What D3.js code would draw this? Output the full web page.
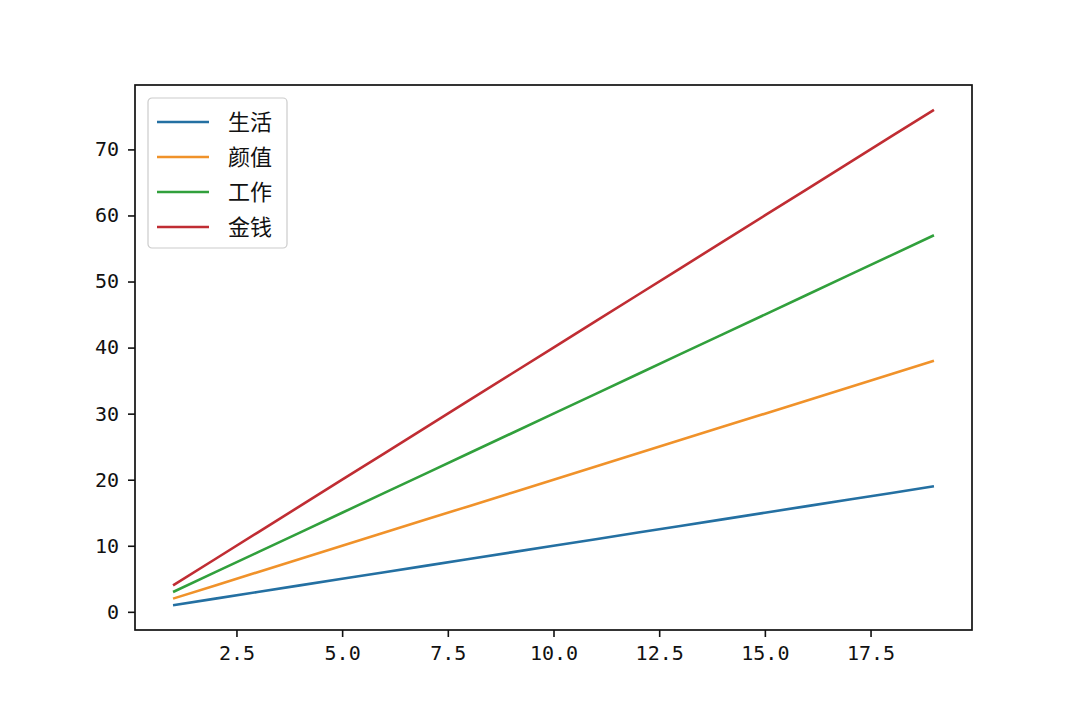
<!DOCTYPE html>
<html lang="zh">
  <head>
    <meta charset="UTF-8" />
    <title>生活 颜值 工作 金钱</title>
    <script src="https://d3js.org/d3.v7.min.js"></script>
    <style>
      body { margin: 0; background: #fff; }
      text { font-family: "DejaVu Sans Mono", "Noto Sans CJK SC", sans-serif; fill: #111; }
      .cjk { font-family: "Noto Sans CJK SC", sans-serif; }
    </style>
  </head>
  <body>
    <div id="chart"></div>
    <script>
      // data
      const xs = [1, 2, 3, 4, 5, 6, 7, 8, 9, 10, 11, 12, 13, 14, 15, 16, 17, 18, 19];
      const life = [1, 2, 3, 4, 5, 6, 7, 8, 9, 10, 11, 12, 13, 14, 15, 16, 17, 18, 19];
      const looks = [2, 4, 6, 8, 10, 12, 14, 16, 18, 20, 22, 24, 26, 28, 30, 32, 34, 36, 38];
      const work = [3, 6, 9, 12, 15, 18, 21, 24, 27, 30, 33, 36, 39, 42, 45, 48, 51, 54, 57];
      const money = [4, 8, 12, 16, 20, 24, 28, 32, 36, 40, 44, 48, 52, 56, 60, 64, 68, 72, 76];
      const names = ["生活", "颜值", "工作", "金钱"];
      const colors = ["#2470a2", "#f0922a", "#31a03c", "#c02d33"];
      const xTicks = [2.5, 5.0, 7.5, 10.0, 12.5, 15.0, 17.5];
      const yTicks = [0, 10, 20, 30, 40, 50, 60, 70];

      const series = [life, looks, work, money];
      const width = 1080, height = 720;
      const m = { left: 135, right: 1080 - 972, top: 85, bottom: 720 - 630 };

      const svg = d3.select("#chart").append("svg")
        .attr("width", width).attr("height", height);

      // matplotlib style 5% margins
      const xPad = (19 - 1) * 0.05, yPad = (76 - 1) * 0.05;
      const x = d3.scaleLinear().domain([1 - xPad, 19 + xPad]).range([m.left, width - m.right]);
      const y = d3.scaleLinear().domain([1 - yPad, 76 + yPad]).range([height - m.bottom, m.top]);

      const line = d3.line().x((d, i) => x(xs[i])).y(d => y(d));

      svg.selectAll(".series")
        .data(series)
        .enter()
        .append("path")
        .attr("class", "series")
        .attr("d", d => line(d))
        .attr("fill", "none")
        .attr("stroke", (d, i) => colors[i])
        .attr("stroke-width", 2.6);

      const xAxis = svg.append("g")
        .attr("transform", `translate(0,${height - m.bottom})`)
        .call(d3.axisBottom(x).tickValues(xTicks).tickFormat(d3.format(".1f")).tickSize(7).tickPadding(9));
      const yAxis = svg.append("g")
        .attr("transform", `translate(${m.left},0)`)
        .call(d3.axisLeft(y).tickValues(yTicks).tickSize(7).tickPadding(9));

      [xAxis, yAxis].forEach(g => {
        g.select(".domain").remove();
        g.selectAll("line").attr("stroke", "#111").attr("stroke-width", 1.6);
        g.selectAll("text").style("font-size", "20px");
      });

      // frame
      svg.append("rect")
        .attr("x", m.left).attr("y", m.top)
        .attr("width", width - m.left - m.right)
        .attr("height", height - m.top - m.bottom)
        .attr("fill", "none").attr("stroke", "#111").attr("stroke-width", 1.7);

      // legend
      const lg = svg.append("g").attr("transform", "translate(148,98)");
      lg.append("rect")
        .attr("width", 139).attr("height", 150).attr("rx", 4)
        .attr("fill", "#fff").attr("fill-opacity", 0.8)
        .attr("stroke", "#ccc").attr("stroke-width", 1.2);
      const items = lg.selectAll(".item").data(names).enter().append("g")
        .attr("transform", (d, i) => `translate(0,${24 + i * 35})`);
      items.append("line")
        .attr("x1", 9).attr("x2", 61)
        .attr("stroke", (d, i) => colors[i]).attr("stroke-width", 2.6);
      items.append("text")
        .attr("class", "cjk")
        .attr("x", 80).attr("dy", "0.35em")
        .style("font-size", "22px")
        .text(d => d);
    </script>
  </body>
</html>
